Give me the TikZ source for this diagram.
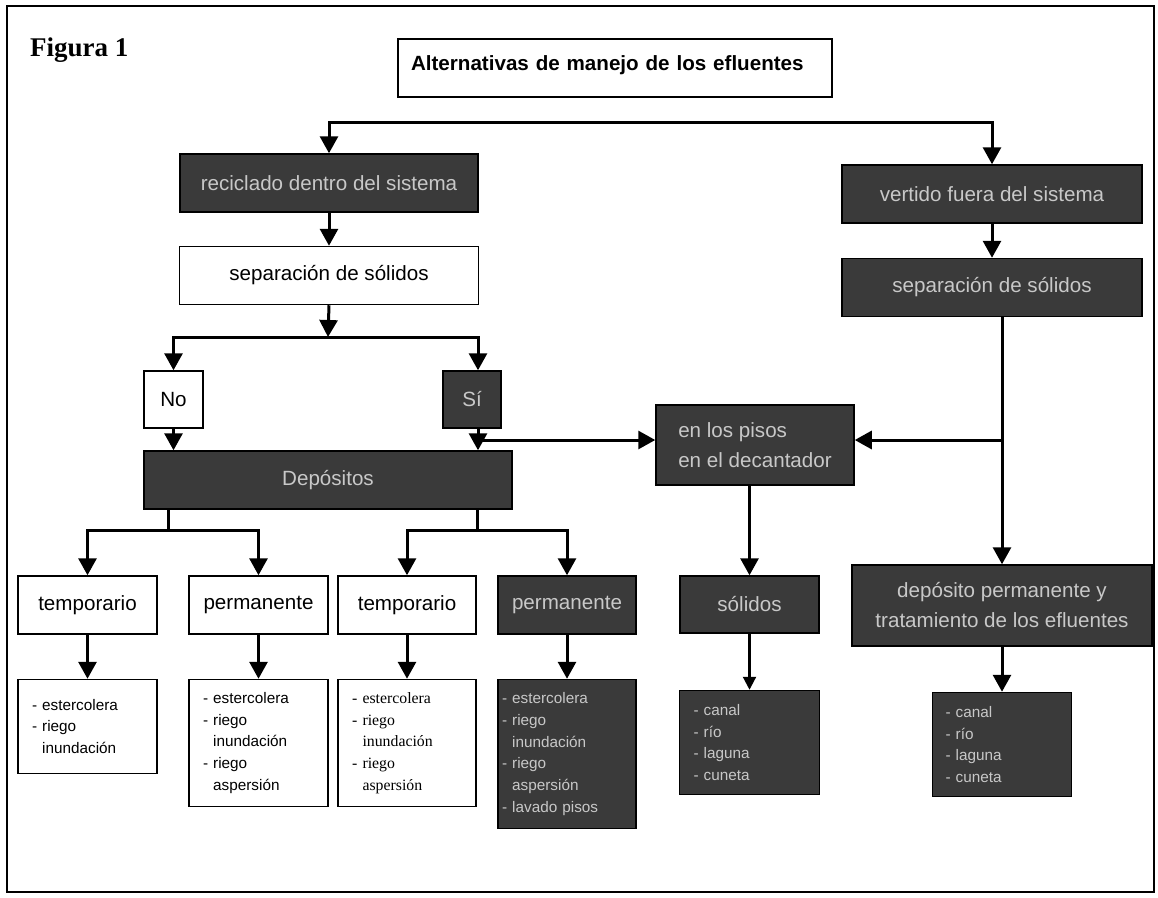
\documentclass[tikz,border=0pt]{standalone}
\usepackage{fontspec}
\setmainfont{Liberation Sans}
\newfontfamily\timesfont{Liberation Serif}
\usetikzlibrary{arrows.meta, positioning}
\definecolor{efdark}{RGB}{58,58,58}
\definecolor{eftext}{RGB}{200,200,200}
\newcommand{\hangdash}{\phantom{-~}}

\begin{document}
\begin{tikzpicture}[x=1pt, y=-1pt,
  whitebox/.style={rectangle, draw=black, line width=1.5pt, fill=white, inner sep=0pt, align=center, font=\fontsize{20.6}{30}\selectfont},
  darkbox/.style={whitebox, fill=efdark, text=eftext},
  listbox/.style={rectangle, draw=black, line width=1.5pt, fill=white, inner xsep=14pt, inner ysep=0pt, align=left, font=\fontsize{15.3}{21.7}\selectfont},
  darklist/.style={listbox, fill=efdark, text=eftext},
  arr/.style={-{Triangle[length=17pt, width=18pt]}, line width=3pt},
  arrboth/.style={{Triangle[length=17pt, width=18pt]}-{Triangle[length=17pt, width=18pt]}, line width=3pt},
  thinarr/.style={-{Triangle[length=13pt, width=13pt]}, line width=2.2pt},
  link/.style={line width=3pt}
]
\useasboundingbox (0,0) rectangle (1158,897);
\draw[line width=2pt] (7,6) rectangle (1154,892);

% heading
\node[anchor=west, inner sep=0pt, font=\timesfont\bfseries\fontsize{27}{30}\selectfont] (fig) at (30,50) {Figura 1};
\node[whitebox, font=\bfseries\fontsize{20.6}{30}\selectfont, text width=408pt, align=left, inner xsep=13pt, minimum height=58pt, text depth=10pt] (title) at (615,68) {Alternativas de manejo de los efluentes};

% left branch
\node[darkbox, minimum width=298pt, minimum height=58pt] (recic) at (329,183) {reciclado dentro del sistema};
\node[whitebox, minimum width=299pt, minimum height=58pt, below=33pt of recic] (sepL) {separación de sólidos};
\node[whitebox, minimum width=59pt, minimum height=57pt] (No) at (173.5,399.5) {No};
\node[darkbox, minimum width=58pt, minimum height=57pt] (Si) at (472,399.5) {Sí};
\node[darkbox, minimum width=368pt, minimum height=58pt] (Dep) at (328,480) {Depósitos};

% right branch
\node[darkbox, minimum width=300pt, minimum height=58pt] (vertido) at (992,194) {vertido fuera del sistema};
\node[darkbox, minimum width=300pt, minimum height=58pt, below=34pt of vertido] (sepR) {separación de sólidos};
\node[darkbox, minimum width=198pt, minimum height=80pt, align=left] (pisos) at (755,445) {en los pisos\\en el decantador};

% third level
\node[whitebox, minimum width=139pt, minimum height=58pt] (temp1) at (87.5,605) {temporario};
\node[whitebox, minimum width=139pt, minimum height=58pt] (perm1) at (258.5,605) {permanente};
\node[whitebox, minimum width=138pt, minimum height=58pt] (temp2) at (407,605) {temporario};
\node[darkbox, minimum width=138pt, minimum height=58pt] (perm2) at (567,605) {permanente};
\node[darkbox, minimum width=139pt, minimum height=57pt] (solidos) at (749.5,604.5) {sólidos};
\node[darkbox, minimum width=300pt, minimum height=81pt] (deptrat) at (1002,605.5) {depósito permanente y\\tratamiento de los efluentes};

% lists
\node[listbox, text width=111pt, minimum height=94pt, below=44pt of temp1] (list1) {- estercolera\\- riego\\\hangdash inundación};
\node[listbox, text width=111pt, minimum height=127pt, below=44pt of perm1] (list2) {- estercolera\\- riego\\\hangdash inundación\\- riego\\\hangdash aspersión};
\node[listbox, text width=110pt, minimum height=127pt, below=44pt of temp2, font=\timesfont\fontsize{15.8}{21.7}\selectfont] (list3) {- estercolera\\- riego\\\hangdash inundación\\- riego\\\hangdash aspersión};
\node[darklist, text width=130pt, inner xsep=4pt, minimum height=149pt, below=44pt of perm2] (list4) {- estercolera\\- riego\\\hangdash inundación\\- riego\\\hangdash aspersión\\- lavado pisos};
\node[darklist, text width=112pt, minimum height=104pt, below=56pt of solidos] (canal1) {- canal\\- río\\- laguna\\- cuneta};
\node[darklist, text width=113pt, inner xsep=13pt, minimum height=104pt, below=45pt of deptrat] (canal2) {- canal\\- río\\- laguna\\- cuneta};

% connectors
\coordinate (forkT) at (660,122);
\draw[arrboth] (recic.north) |- (forkT) -| (vertido.north);
\draw[arr] (recic.south) -- (sepL.north);
\draw[arr] (vertido.south) -- (sepR.north);
\coordinate (forkS) at (328,337);
\draw[arr] (sepL.south) -- (forkS);
\draw[arrboth] (No.north) |- (forkS) -| ([xshift=6pt]Si.north);
\coordinate (siout) at ([xshift=6pt]Si.south);
\draw[arr] (No.south) -- (No.south |- Dep.north);
\draw[arr] (siout) -- (siout |- Dep.north);
\coordinate (forkP) at (478,440);
\draw[arr] (forkP) -- (forkP -| pisos.west);
\coordinate (forkR) at (deptrat.north |- forkP);
\draw[arr] (sepR.south -| deptrat.north) -- (deptrat.north);
\draw[arr] (forkR) -- (forkR -| pisos.east);
\draw[arr] (pisos.south -| solidos.north) -- (solidos.north);
\draw[thinarr] (solidos.south) -- (canal1.north);
\draw[arr] (deptrat.south) -- (canal2.north);
\coordinate (forkA) at (168,530);
\coordinate (forkB) at (477,530);
\draw[link] (forkA |- Dep.south) -- (forkA);
\draw[arrboth] (temp1.north) |- (forkA) -| (perm1.north);
\draw[link] (forkB |- Dep.south) -- (forkB);
\draw[arrboth] (temp2.north) |- (forkB) -| (perm2.north);
\draw[arr] (temp1.south) -- (list1.north);
\draw[arr] (perm1.south) -- (list2.north);
\draw[arr] (temp2.south) -- (list3.north);
\draw[arr] (perm2.south) -- (list4.north);
\end{tikzpicture}
\end{document}
